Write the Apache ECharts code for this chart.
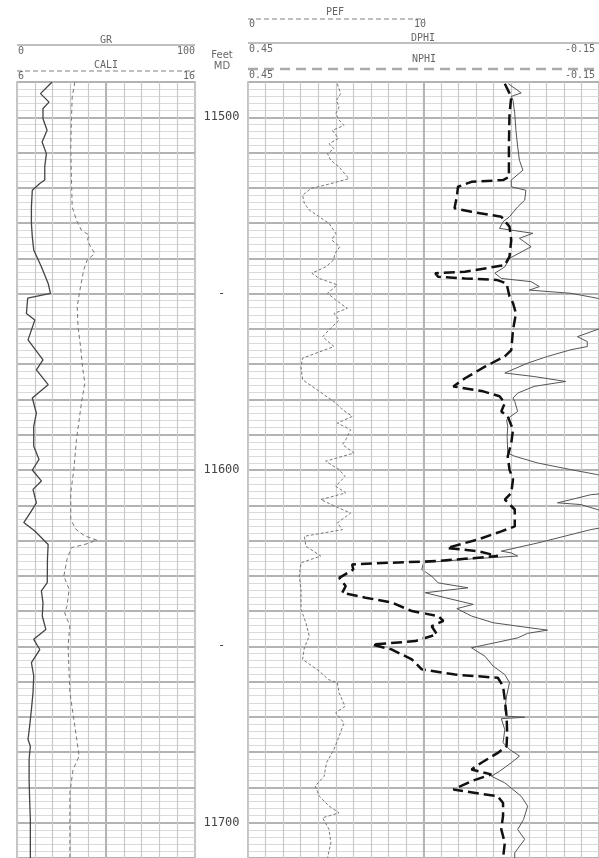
<!DOCTYPE html>
<html><head><meta charset="utf-8">
<script src="https://cdn.jsdelivr.net/npm/echarts@6.0.0/dist/echarts.min.js"></script>
<style>html,body{margin:0;padding:0;background:#fff}#c{width:599px;height:858px}</style>
</head><body><div id="c"></div>
<script>
// ---------- DATA (depth in feet MD) ----------
const grDepth = [11490, 11493.3, 11495.7, 11497.5, 11500.4, 11503.7, 11507, 11510.3, 11514, 11517.8, 11518.8, 11520.7, 11525.4, 11530.1, 11533.9, 11537.6, 11542.4, 11547.1, 11549.9, 11551.3, 11555.6, 11557.5, 11563.1, 11568.8, 11571.6, 11575.8, 11579.6, 11583.9, 11587.6, 11593.3, 11597, 11600, 11603.1, 11605.5, 11609.3, 11612.1, 11614.9, 11617.3, 11621.1, 11625.3, 11631.9, 11634.3, 11637.6, 11641.4, 11645.2, 11648, 11650.9, 11654.6, 11658.4, 11663.1, 11667.9, 11672.6, 11676.4, 11678.3, 11682, 11687.7, 11693.4, 11699, 11710];
const grValue = [19.7, 13.2, 18, 14.6, 14.6, 16.9, 14.1, 16.5, 15.6, 15.6, 12.8, 8.6, 8.1, 8.1, 8.6, 9.4, 13.7, 17.5, 18.8, 6.0, 5.3, 10, 6.2, 14.6, 10.9, 17.5, 8.6, 10.9, 9.4, 9.4, 12.4, 8.6, 13.7, 9.0, 10.9, 7.5, 3.8, 10, 17.5, 17.1, 17, 13.7, 14.6, 14.2, 16.2, 9.4, 12.8, 8.1, 9.4, 9.0, 8.1, 7.1, 6.2, 7.5, 6.8, 6.8, 7.1, 7.5, 7.5];

const caliDepth = [11490, 11494.3, 11500.4, 11508.4, 11517.8, 11525.4, 11529.2, 11532, 11533.4, 11534.8, 11536.7, 11538.6, 11540.5, 11543.3, 11548, 11553.7, 11559.4, 11565, 11570.7, 11575.4, 11581, 11591.4, 11600, 11606.4, 11614, 11616.8, 11618.7, 11619.9, 11621.1, 11622, 11625.3, 11630.1, 11633.8, 11638.6, 11640.5, 11644.2, 11649.9, 11663.1, 11672.6, 11681.1, 11684.9, 11691.5, 11710];
const caliValue = [9.25, 9.1, 9.06, 9.02, 9.06, 9.1, 9.34, 9.62, 10.05, 9.96, 10.13, 10.37, 9.94, 9.75, 9.57, 9.38, 9.43, 9.57, 9.68, 9.81, 9.62, 9.34, 9.19, 9.02, 9.02, 9.3, 9.81, 10.5, 9.81, 9.06, 8.81, 8.63, 8.93, 8.81, 8.68, 8.97, 8.87, 8.97, 9.25, 9.49, 9.15, 8.97, 8.97];

const pefDepth = [11490.5, 11493.3, 11495.2, 11497.1, 11499.0, 11500.8, 11502.3, 11503.7, 11506.0, 11507.5,
  11508.9, 11510.3, 11512.2, 11514.1, 11517.4, 11518.8, 11520.2, 11522.1, 11524.4, 11526.3,
  11528.2, 11530.1, 11532.9, 11534.8, 11536.7, 11538.6, 11540.5, 11542.4, 11544.2, 11545.7,
  11547.5, 11549.9, 11551.8, 11554.2, 11555.6, 11557.5, 11559.3, 11560.3, 11562.2, 11565.0,
  11568.3, 11570.7, 11574.4, 11577.7, 11581.0, 11582.9, 11584.8, 11586.7, 11588.6, 11591.4,
  11592.8, 11595.2, 11597.5, 11599.9, 11601.8, 11604.6, 11606.5, 11608.4, 11610.8, 11612.2,
  11615.0, 11616.9, 11618.8, 11621.6, 11624.4, 11626.3, 11630.1, 11633.9, 11639.5, 11643.3,
  11647.1, 11650.4, 11653.7, 11657.0, 11659.4, 11660.3, 11663.2, 11667.0, 11668.8, 11671.7,
  11675.5, 11679.2, 11683.0, 11686.8, 11689.6, 11692.5, 11695.3, 11697.2, 11698.6, 11701.9,
  11705.7, 11710];
const pefValue = [5.09, 5.28, 5.04, 5.19, 5.0, 5.19, 5.47, 4.81, 5.15, 4.62,
  4.9, 4.53, 4.72, 5.19, 5.75, 4.72, 3.58, 3.11, 3.21, 3.49,
  4.06, 4.62, 5.0, 4.77, 5.23, 4.96, 4.87, 4.43, 3.64, 4.06,
  5.09, 4.53, 5.0, 5.66, 4.9, 5.19, 4.81, 4.62, 4.25, 4.9,
  3.11, 3.02, 3.11, 4.06, 5.0, 5.38, 5.94, 5.09, 5.85, 5.57,
  5.38, 6.04, 4.43, 5.19, 5.53, 5.0, 5.57, 4.15, 5.19, 5.85,
  5.09, 5.38, 3.21, 3.3, 4.15, 3.02, 2.92, 3.02, 3.02, 3.3,
  3.49, 3.21, 3.11, 4.06, 4.58, 5.09, 5.19, 5.53, 5.0, 5.47,
  5.19, 4.9, 4.47, 4.34, 3.83, 4.06, 4.62, 5.19, 4.25, 4.62,
  4.72, 4.53];

const dphiDepth = [11490.5, 11493.1, 11494.1, 11495.2, 11499.0, 11503.7, 11508.4, 11512.2, 11515.0, 11517.8,
  11519.7, 11520.7, 11523.5, 11525.4, 11528.2, 11529.6, 11531.5, 11532.9, 11534.3, 11536.7,
  11540.0, 11542.4, 11544.2, 11545.7, 11546.6, 11548.0, 11549.0, 11549.9, 11551.3, 11552.7,
  11559.0, 11560.3, 11562.2, 11563.6, 11565.0, 11565.9, 11567.8, 11569.7, 11572.5, 11573.5,
  11574.9, 11576.3, 11578.2, 11579.6, 11580.6, 11583.4, 11584.8, 11585.8, 11587.6, 11590.5,
  11595.2, 11596.1, 11598.0, 11599.9, 11601.3, 11602.3, 11606.5, 11607.0, 11608.4, 11609.3,
  11609.8, 11611.2, 11612.2, 11615.9, 11616.9, 11620.7, 11623.0, 11623.5, 11624.4, 11625.2,
  11626.3, 11628.2, 11630.1, 11632.0, 11633.4, 11634.8, 11636.2, 11638.1, 11639.3, 11641.4,
  11643.3, 11644.4, 11645.4, 11646.3, 11647.6, 11650.4, 11652.8, 11655.6, 11658.0, 11660.3,
  11664.1, 11667.9, 11669.8, 11670.1, 11670.5, 11673.6, 11677.3, 11679.2, 11681.1, 11683.0,
  11685.4, 11686.8, 11688.7, 11692.5, 11695.3, 11699.1, 11701.9, 11704.7, 11708.5, 11710];
const dphiValue = [0.005, -0.017, 0.0, -0.003, -0.006, -0.008, -0.011, -0.014, -0.020, 0.0,
  0.0, -0.025, -0.023, -0.011, 0.003, 0.014, 0.020, -0.037, -0.014, -0.034,
  0.003, 0.011, 0.028, 0.017, -0.034, -0.048, -0.031, -0.102, -0.147, -0.17,
  -0.17, -0.145, -0.113, -0.13, -0.130, -0.102, -0.062, -0.028, 0.011, -0.039,
  -0.093, -0.039, -0.011, -0.003, -0.006, -0.011, 0.001, 0.008, 0.006, 0.007,
  0.006, -0.006, -0.045, -0.102, -0.147, -0.17, -0.17, -0.136, -0.102, -0.079,
  -0.119, -0.147, -0.17, -0.17, -0.136, -0.045, 0.017, 0.0, -0.011, 0.068,
  0.15, 0.153, 0.136, 0.125, 0.074, 0.147, 0.113, 0.065, 0.093, 0.068,
  0.031, -0.017, -0.062, -0.028, -0.011, 0.068, 0.045, 0.031, 0.011, 0.003,
  0.008, 0.011, 0.008, -0.023, 0.017, 0.011, 0.014, 0.003, -0.014, 0.0,
  0.020, 0.034, 0.011, -0.017, -0.028, -0.021, -0.011, -0.023, -0.006, -0.006];

const nphiDepth = [11490.5, 11494.2, 11499.0, 11508.4, 11516.9, 11517.8, 11518.3, 11519.7, 11522.5, 11525.8,
  11526.8, 11528.2, 11531.0, 11534.8, 11539.5, 11541.9, 11543.8, 11544.2, 11545.2, 11545.7,
  11546.1, 11547.1, 11550.8, 11552.7, 11555.6, 11560.3, 11566.0, 11567.8, 11570.7, 11574.0,
  11576.3, 11577.7, 11579.1, 11581.0, 11583.4, 11584.8, 11588.6, 11592.4, 11596.1, 11599.9,
  11602.7, 11606.5, 11608.4, 11611.2, 11616.0, 11617.4, 11619.7, 11622.1, 11623.0, 11624.4,
  11625.8, 11626.3, 11626.8, 11628.2, 11630.6, 11632.9, 11634.8, 11636.2, 11637.6, 11640.0,
  11641.4, 11642.8, 11644.3, 11646.6, 11648.5, 11649.5, 11650.9, 11653.7, 11656.5, 11658.0,
  11658.9, 11661.3, 11665.1, 11669.8, 11674.5, 11678.3, 11680.2, 11683.0, 11684.9, 11686.3,
  11688.2, 11690.6, 11692.5, 11694.4, 11698.0, 11701.9, 11705.7, 11710];
const nphiValue = [0.011, 0.0, 0.003, 0.004, 0.004, 0.014, 0.068, 0.091, 0.093, 0.097,
  0.068, 0.017, 0.003, 0.0, 0.003, 0.011, 0.079, 0.130, 0.125, 0.079,
  0.025, 0.008, 0.003, -0.003, -0.008, -0.003, 0.0, 0.011, 0.045, 0.079,
  0.099, 0.048, 0.020, 0.011, 0.017, 0.006, -0.003, 0.0, 0.006, 0.003,
  -0.003, 0.0, 0.011, -0.006, -0.006, 0.017, 0.057, 0.110, 0.057, 0.023,
  0.125, 0.209, 0.272, 0.270, 0.294, 0.283, 0.289, 0.249, 0.204, 0.170,
  0.125, 0.116, 0.136, 0.127, 0.164, 0.238, 0.204, 0.170, 0.153, 0.096,
  0.023, 0.014, 0.011, 0.008, 0.007, 0.008, 0.023, 0.051, 0.068, 0.034,
  0.068, 0.099, 0.023, 0.014, 0.014, 0.017, 0.011, 0.014];

// scales / tick labels
const depthMin = 11490, depthMax = 11710;
const grScale = [0, 100], caliScale = [6, 16], pefScale = [0, 10], phiScale = [0.45, -0.15];
const depthLabels = {11500: '11500', 11550: '-', 11600: '11600', 11650: '-', 11700: '11700'};

// ---------- CHART ----------
const pair = (vals, deps) => vals.map((v, i) => [v, deps[i]]);
const mono = "'DejaVu Sans Mono', monospace";
const hdr = '#666';
const gridColor = '#c9c9c9';

const yCommon = (gi) => ({
  type: 'value', gridIndex: gi, inverse: true, min: depthMin, max: depthMax, interval: 10,
  axisLine: {show: false}, axisTick: {show: false},
  splitLine: {show: true, lineStyle: {color: '#b3b3b3', width: 2}},
  minorTick: {show: false, splitNumber: 5},
  minorSplitLine: {show: true, lineStyle: {color: '#dadada', width: 1}},
  axisLabel: {show: false}
});

const y1 = yCommon(1);
y1.axisLabel = {
  show: true, align: 'center', margin: 26.5, fontFamily: mono, fontSize: 12, color: '#444',
  formatter: v => depthLabels[v] || ''
};

function txt(text, x, y, align, font) {
  return {type: 'text', z: 10, style: {text, x, y, align: align || 'left', verticalAlign: 'middle',
    font: font || ('10px ' + mono), fill: hdr}};
}
function ln(x1, y1_, x2, y2, dash, w) {
  return {type: 'line', z: 10, shape: {x1, y1: y1_, x2, y2},
    style: {stroke: '#aaa', lineWidth: w || 1.5, lineDash: dash || null}};
}

const option = {
  animation: false,
  backgroundColor: '#fff',
  grid: [
    {left: 17, top: 82, width: 178, height: 776, show: true, borderColor: '#b0b0b0', borderWidth: 1.5},
    {left: 248, top: 82, width: 354, height: 776, show: true, borderColor: '#b0b0b0', borderWidth: 1.5}
  ],
  xAxis: [
    {type: 'value', gridIndex: 0, min: grScale[0], max: grScale[1], interval: 10,
      axisLine: {show: false}, axisTick: {show: false}, axisLabel: {show: false},
      splitLine: {show: true, lineStyle: {color: gridColor, width: 1.2}}},
    {type: 'value', gridIndex: 0, min: caliScale[0], max: caliScale[1], show: false},
    {type: 'value', gridIndex: 1, min: pefScale[0], max: pefScale[1] * 2, interval: 1,
      axisLine: {show: false}, axisTick: {show: false}, axisLabel: {show: false},
      splitLine: {show: true, lineStyle: {color: gridColor, width: 1.2}}},
    {type: 'value', gridIndex: 1, min: phiScale[1], max: phiScale[0], inverse: true, show: false}
  ],
  yAxis: [yCommon(0), y1],
  graphic: [
    txt('GR', 106, 40, 'center'), ln(17, 45, 195, 45), txt('0', 18, 51.5), txt('100', 195, 51.5, 'right'),
    txt('CALI', 106, 65.5, 'center'), ln(17, 71, 195, 71, [5, 3], 1.3), txt('6', 18, 76.5), txt('16', 195, 76.5, 'right'),
    txt('Feet', 222, 55, 'center', "10px 'DejaVu Sans', sans-serif"),
    txt('MD', 222, 66, 'center', "10px 'DejaVu Sans', sans-serif"),
    txt('PEF', 335, 12, 'center'), ln(248, 19, 425, 19, [5, 3], 1.3), txt('0', 249, 24), txt('10', 426, 24, 'right'),
    txt('DPHI', 423, 38.5, 'center'), ln(248, 43, 602, 43), txt('0.45', 249, 49.5), txt('-0.15', 565, 49.5),
    txt('NPHI', 424, 59.5, 'center'), ln(248, 69, 602, 69, [10, 6], 2.5), txt('0.45', 249, 75), txt('-0.15', 565, 75)
  ],
  series: [
    {type: 'line', xAxisIndex: 0, yAxisIndex: 0, data: [], z: 1, silent: true,
      markLine: {silent: true, symbol: 'none', label: {show: false},
        lineStyle: {color: '#b5b5b5', width: 2, type: 'solid'}, data: [{xAxis: 50}]}},
    {type: 'line', xAxisIndex: 2, yAxisIndex: 1, data: [], z: 1, silent: true,
      markLine: {silent: true, symbol: 'none', label: {show: false},
        lineStyle: {color: '#b5b5b5', width: 2, type: 'solid'}, data: [{xAxis: 10}]}},
    {name: 'GR', type: 'line', xAxisIndex: 0, yAxisIndex: 0, data: pair(grValue, grDepth),
      symbol: 'none', z: 3, lineStyle: {color: '#444', width: 1.3}},
    {name: 'CALI', type: 'line', xAxisIndex: 1, yAxisIndex: 0, data: pair(caliValue, caliDepth),
      symbol: 'none', z: 3, lineStyle: {color: '#777', width: 1, type: [4, 3]}},
    {name: 'PEF', type: 'line', xAxisIndex: 2, yAxisIndex: 1, data: pair(pefValue, pefDepth),
      symbol: 'none', z: 3, lineStyle: {color: '#777', width: 1, type: [3, 2]}},
    {name: 'DPHI', type: 'line', xAxisIndex: 3, yAxisIndex: 1, data: pair(dphiValue, dphiDepth),
      symbol: 'none', z: 3, clip: true, lineStyle: {color: '#555', width: 1}},
    {name: 'NPHI', type: 'line', xAxisIndex: 3, yAxisIndex: 1, data: pair(nphiValue, nphiDepth),
      symbol: 'none', z: 4, clip: true, lineStyle: {color: '#111', width: 2.5, type: [11, 5]}}
  ]
};

const chart = echarts.init(document.getElementById('c'), null, {renderer: 'canvas'});
chart.setOption(option);
</script></body></html>
